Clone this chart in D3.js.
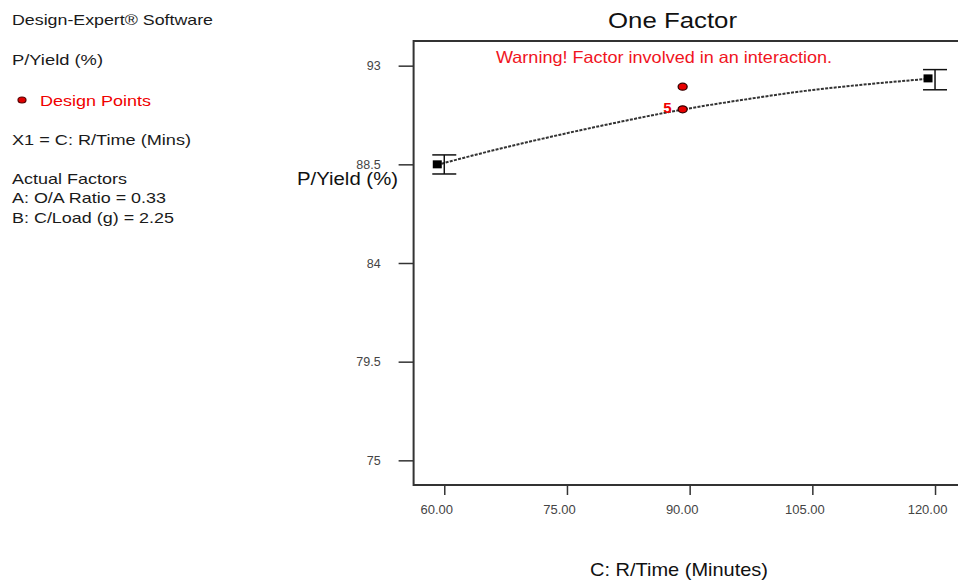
<!DOCTYPE html>
<html>
<head>
<meta charset="utf-8">
<script src="https://cdn.jsdelivr.net/npm/d3@7"></script>
<style>
  html, body { margin: 0; padding: 0; background: #fff; }
  svg { display: block; font-family: "Liberation Sans", Arial, sans-serif; }
</style>
</head>
<body>
<svg id="chart"></svg>
<script>
// axis ticks
const xTicks = [60, 75, 90, 105, 120];
const yTicks = [75, 79.5, 84, 88.5, 93];

// model prediction line
const curveX = [60, 67.5, 75, 82.5, 90, 97.5, 105, 112.5, 120];
const curveY = [88.48, 89.2, 89.85, 90.45, 91.0, 91.45, 91.85, 92.15, 92.4];

// end points with their intervals
const endX = [60, 120];
const endY = [88.5, 92.42];
const endLow = [88.06, 91.9];
const endHigh = [88.93, 92.82];

// design points
const designX = [90, 90];
const designY = [92.04, 91.01];
const designLabel = ["", "5"];

// side notes
const noteLines = [
  { text: "Design-Expert\u00ae Software", y: 25, w: 201 },
  { text: "P/Yield (%)", y: 65, w: 91 },
  { text: "X1 = C: R/Time (Mins)", y: 145, w: 179 },
  { text: "Actual Factors", y: 184, w: 115 },
  { text: "A: O/A Ratio = 0.33", y: 203, w: 154 },
  { text: "B: C/Load (g) = 2.25", y: 223, w: 162 }
];

const width = 958, height = 583;
const svg = d3.select("#chart").attr("width", width).attr("height", height);

const x = d3.scaleLinear().domain([56.25, 123.75]).range([413.6, 965.7]);
const y = d3.scaleLinear().domain([73.875, 94.125]).range([485, 41]);
const markShift = -7; // markers sit a little left of the tick marks

// Left notes
svg.selectAll("text.note")
  .data(noteLines)
  .join("text")
  .attr("class", "note")
  .attr("x", 12)
  .attr("y", d => d.y)
  .attr("font-size", 15)
  .attr("fill", "#1a1a1a")
  .attr("textLength", d => d.w)
  .attr("lengthAdjust", "spacingAndGlyphs")
  .text(d => d.text);

svg.append("ellipse")
  .attr("cx", 22).attr("cy", 100)
  .attr("rx", 4).attr("ry", 3)
  .attr("fill", "#e00000").attr("stroke", "#500").attr("stroke-width", 1.2);

svg.append("text")
  .attr("x", 40).attr("y", 106)
  .attr("font-size", 15)
  .attr("fill", "#f00000")
  .attr("textLength", 111)
  .attr("lengthAdjust", "spacingAndGlyphs")
  .text("Design Points");

// Title
svg.append("text")
  .attr("x", 608).attr("y", 28)
  .attr("font-size", 22)
  .attr("fill", "#111")
  .attr("textLength", 129)
  .attr("lengthAdjust", "spacingAndGlyphs")
  .text("One Factor");

// Frame
svg.append("rect")
  .attr("x", x.range()[0]).attr("y", y.range()[1])
  .attr("width", x.range()[1] - x.range()[0])
  .attr("height", y.range()[0] - y.range()[1])
  .attr("fill", "none")
  .attr("stroke", "#333")
  .attr("stroke-width", 2);

// Y axis (ticks with a gap from the frame)
const yAxis = d3.axisLeft(y)
  .tickValues(yTicks)
  .tickSize(15)
  .tickPadding(18)
  .tickFormat(d => String(d));

const yG = svg.append("g")
  .attr("transform", `translate(${x.range()[0]},0)`)
  .call(yAxis);
yG.select(".domain").remove();
yG.selectAll(".tick line").attr("stroke", "#333").attr("stroke-width", 1.5);
yG.selectAll(".tick text")
  .attr("font-size", 12.5)
  .attr("fill", "#444")
  .attr("font-family", "Liberation Sans, Arial, sans-serif");

// X axis
const xAxis = d3.axisBottom(x)
  .tickValues(xTicks)
  .tickSize(10)
  .tickPadding(10)
  .tickFormat(d3.format(".2f"));

const xG = svg.append("g")
  .attr("transform", `translate(0,${y.range()[0]})`)
  .call(xAxis);
xG.select(".domain").remove();
xG.selectAll(".tick line").attr("stroke", "#333").attr("stroke-width", 1.5);
xG.selectAll(".tick text")
  .attr("dx", -8)
  .attr("font-size", 13)
  .attr("fill", "#444")
  .attr("font-family", "Liberation Sans, Arial, sans-serif");

// Axis titles
svg.append("text")
  .attr("x", 297).attr("y", 185)
  .attr("font-size", 18)
  .attr("fill", "#111")
  .attr("textLength", 101)
  .attr("lengthAdjust", "spacingAndGlyphs")
  .text("P/Yield (%)");

svg.append("text")
  .attr("x", 590).attr("y", 576)
  .attr("font-size", 19)
  .attr("fill", "#111")
  .attr("textLength", 178)
  .attr("lengthAdjust", "spacingAndGlyphs")
  .text("C: R/Time (Minutes)");

// Warning
svg.append("text")
  .attr("x", 496).attr("y", 63)
  .attr("font-size", 16.5)
  .attr("fill", "#f0141e")
  .attr("textLength", 336)
  .attr("lengthAdjust", "spacingAndGlyphs")
  .text("Warning! Factor involved in an interaction.");

// Prediction line
const line = d3.line()
  .x(d => x(d[0]) + markShift)
  .y(d => y(d[1]))
  .curve(d3.curveMonotoneX);

svg.append("path")
  .datum(d3.zip(curveX, curveY))
  .attr("d", line)
  .attr("fill", "none")
  .attr("stroke", "#333")
  .attr("stroke-width", 2)
  .attr("stroke-dasharray", "3,1.3");

// Error bars
const bars = svg.append("g").selectAll("g")
  .data(endX.map((v, i) => ({ x: v, lo: endLow[i], hi: endHigh[i] })))
  .join("g")
  .attr("stroke", "#111")
  .attr("stroke-width", 1.5);

bars.append("line")
  .attr("x1", d => x(d.x)).attr("x2", d => x(d.x))
  .attr("y1", d => y(d.lo)).attr("y2", d => y(d.hi));
bars.append("line")
  .attr("x1", d => x(d.x) - 12).attr("x2", d => x(d.x) + 12)
  .attr("y1", d => y(d.lo)).attr("y2", d => y(d.lo));
bars.append("line")
  .attr("x1", d => x(d.x) - 12).attr("x2", d => x(d.x) + 12)
  .attr("y1", d => y(d.hi)).attr("y2", d => y(d.hi));

// End squares
svg.append("g").selectAll("rect")
  .data(d3.zip(endX, endY))
  .join("rect")
  .attr("x", d => x(d[0]) + markShift - 4.5)
  .attr("y", d => y(d[1]) - 4)
  .attr("width", 9)
  .attr("height", 8)
  .attr("fill", "#000");

// Design points
svg.append("g").selectAll("ellipse")
  .data(d3.zip(designX, designY))
  .join("ellipse")
  .attr("cx", d => x(d[0]) + markShift)
  .attr("cy", d => y(d[1]))
  .attr("rx", 4.5)
  .attr("ry", 3.5)
  .attr("fill", "#e80000")
  .attr("stroke", "#300")
  .attr("stroke-width", 1.3);

svg.append("g").selectAll("text")
  .data(designX.map((v, i) => ({ x: v, y: designY[i], t: designLabel[i] })).filter(d => d.t))
  .join("text")
  .attr("x", d => x(d.x) + markShift - 11)
  .attr("y", d => y(d.y) + 4)
  .attr("text-anchor", "end")
  .attr("font-size", 15)
  .attr("font-weight", "bold")
  .attr("fill", "#f00000")
  .text(d => d.t);
</script>
</body>
</html>
